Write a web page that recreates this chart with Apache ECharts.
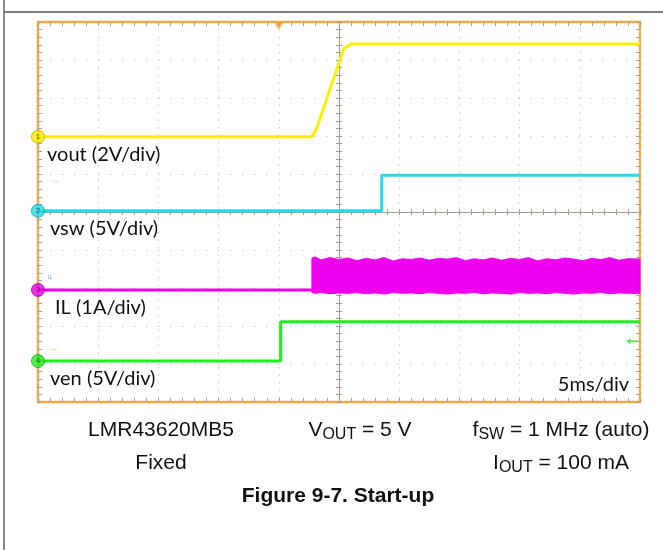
<!DOCTYPE html>
<html>
<head>
<meta charset="utf-8">
<script src="https://cdn.jsdelivr.net/npm/echarts@6/dist/echarts.min.js"></script>
<style>
html,body{margin:0;padding:0;background:#fff;}
#chart{width:663px;height:550px;}
</style>
</head>
<body>
<div id="chart"></div>
<script>
// ---- data (time in divisions at 5 ms/div, level in screen divisions 0..10) ----
const voutX = [0, 4.55, 4.63, 5.08, 5.21, 10];
const voutY = [6.98, 6.98, 7.2, 9.3, 9.42, 9.42];

const vswX = [0, 5.71, 5.71, 10];
const vswY = [5.03, 5.03, 5.97, 5.97];

const ilX = [0, 4.55];
const ilY = [2.95, 2.95];

const ilBandX      = [4.55, 4.6, 4.7, 4.85, 5.0, 5.15, 5.3, 5.45, 5.6, 5.75, 5.9, 6.05, 6.2, 6.35, 6.5, 6.65, 6.8, 6.95, 7.1, 7.25, 7.4, 7.55, 7.7, 7.85, 8.0, 8.15, 8.3, 8.45, 8.6, 8.75, 8.9, 9.05, 9.2, 9.35, 9.5, 9.65, 9.8, 10];
const ilBandTop    = [3.78, 3.82, 3.74, 3.80, 3.75, 3.79, 3.72, 3.78, 3.74, 3.80, 3.71, 3.77, 3.75, 3.79, 3.73, 3.78, 3.76, 3.80, 3.72, 3.77, 3.74, 3.79, 3.73, 3.78, 3.75, 3.80, 3.71, 3.77, 3.74, 3.79, 3.76, 3.72, 3.78, 3.75, 3.80, 3.73, 3.77, 3.76];
const ilBandBottom = [2.88, 2.86, 2.88, 2.85, 2.87, 2.86, 2.88, 2.85, 2.87, 2.84, 2.88, 2.86, 2.87, 2.85, 2.88, 2.86, 2.84, 2.87, 2.86, 2.88, 2.85, 2.87, 2.86, 2.84, 2.88, 2.86, 2.87, 2.85, 2.88, 2.86, 2.84, 2.87, 2.86, 2.88, 2.85, 2.87, 2.86, 2.86];

const venX = [0, 4.03, 4.03, 10];
const venY = [1.08, 1.08, 2.11, 2.11];

const channelNames = ['1', '2', '3', '4'];
const channelLevels = [6.98, 5.03, 2.95, 1.08];
const channelColors = ['#FFEE00', '#22DDEE', '#EE00EE', '#22EE22'];
const channelBorders = ['#B8A800', '#1799A8', '#A000A0', '#18A018'];

const traceLabels = ['vout (2V/div)', 'vsw (5V/div)', 'IL (1A/div)', 'ven (5V/div)'];
const triggerTime = 4.0;
const triggerLevel = 1.6;

function pairs(xs, ys) { return xs.map((x, i) => [x, ys[i]]); }

const chart = echarts.init(document.getElementById('chart'), null, {renderer: 'canvas'});

const tickColor = '#a0a0a0';
const centerColor = '#a49c8c';
const orange = '#F3A847';

function borderAxis(extra) {
  return Object.assign({
    type: 'value', min: 0, max: 10, interval: 1, gridIndex: 0,
    axisLine: {show: false, onZero: false},
    axisLabel: {show: false},
    axisTick: {show: true, inside: true, length: 4, lineStyle: {color: tickColor, width: 1}},
    minorTick: {show: true, splitNumber: 5, length: 4, lineStyle: {color: tickColor, width: 1}},
    splitLine: {show: false},
    minorSplitLine: {show: false}
  }, extra);
}
function centerAxis(grid, inside) {
  return {
    type: 'value', min: -5, max: 5, interval: 1, gridIndex: grid,
    axisLine: {show: true, onZero: true, lineStyle: {color: centerColor, width: 1}},
    axisLabel: {show: false},
    axisTick: {show: true, inside: inside, length: 3, lineStyle: {color: centerColor, width: 1}},
    minorTick: {show: true, splitNumber: 5, length: 3, lineStyle: {color: centerColor, width: 1}},
    splitLine: {show: false}
  };
}

const gridBox = {left: 38, top: 22, width: 602, height: 380};

const option = {
  backgroundColor: '#ffffff',
  animation: false,
  grid: [
    Object.assign({show: true, borderColor: orange, borderWidth: 2.5, backgroundColor: '#fff'}, gridBox),
    Object.assign({show: false}, gridBox),
    Object.assign({show: false}, gridBox)
  ],
  xAxis: [
    borderAxis({position: 'bottom', splitLine: {show: true, lineStyle: {color: '#c8c8c8', width: 1, type: [1.5, 6]}}}),
    borderAxis({position: 'top'}),
    centerAxis(1, true),
    centerAxis(2, false)
  ],
  yAxis: [
    borderAxis({position: 'left', splitLine: {show: true, lineStyle: {color: '#c8c8c8', width: 1, type: [1.5, 10.5]}}}),
    borderAxis({position: 'right'}),
    centerAxis(1, true),
    centerAxis(2, false)
  ],
  series: [
    {type: 'line', name: 'ven', data: pairs(venX, venY), showSymbol: false, lineStyle: {color: channelColors[3], width: 3}, xAxisIndex: 0, yAxisIndex: 0, z: 3},
    {type: 'line', name: 'IL', data: pairs(ilX, ilY), showSymbol: false, lineStyle: {color: channelColors[2], width: 3}, xAxisIndex: 0, yAxisIndex: 0, z: 3},
    {type: 'custom', name: 'ILband', xAxisIndex: 0, yAxisIndex: 0, z: 3,
      data: pairs(ilBandX, ilBandTop),
      renderItem: function (params, api) {
        if (params.dataIndex !== 0) return null;
        const pts = [];
        for (let i = 0; i < ilBandX.length; i++) pts.push(api.coord([ilBandX[i], ilBandTop[i]]));
        for (let i = ilBandX.length - 1; i >= 0; i--) pts.push(api.coord([ilBandX[i], ilBandBottom[i]]));
        return {type: 'polygon', shape: {points: pts}, style: {fill: channelColors[2], stroke: channelColors[2], lineWidth: 1}};
      }},
    {type: 'line', name: 'vsw', data: pairs(vswX, vswY), showSymbol: false, lineStyle: {color: channelColors[1], width: 3}, xAxisIndex: 0, yAxisIndex: 0, z: 3},
    {type: 'line', name: 'vout', data: pairs(voutX, voutY), showSymbol: false, lineStyle: {color: channelColors[0], width: 3}, xAxisIndex: 0, yAxisIndex: 0, z: 3},
    {type: 'scatter', name: 'markers', xAxisIndex: 0, yAxisIndex: 0, clip: false, z: 5,
      symbol: 'circle', symbolSize: 13,
      data: channelNames.map((n, i) => ({name: n, value: [0, channelLevels[i]],
        itemStyle: {color: channelColors[i], borderColor: channelBorders[i], borderWidth: 1}})),
      label: {show: true, position: 'inside', formatter: '{b}', fontSize: 8, color: '#333', fontFamily: 'Liberation Sans'}},
    {type: 'scatter', name: 'trigger', xAxisIndex: 0, yAxisIndex: 0, clip: false, z: 5,
      symbol: 'triangle', symbolRotate: 180, symbolSize: [9, 7], symbolOffset: [0, 4],
      itemStyle: {color: '#F39A1E'}, data: [[triggerTime, 10]]},
    {type: 'scatter', name: 'triglevel', xAxisIndex: 0, yAxisIndex: 0, clip: false, z: 5,
      symbol: 'path://M0,5 L6,0 L6,3.5 L16,3.5 L16,6.5 L6,6.5 L6,10 Z', symbolSize: [12, 6], symbolOffset: [-8, 0],
      itemStyle: {color: '#33DD33'}, data: [[10, triggerLevel]]}
  ],
  graphic: [
    {type: 'line', shape: {x1: 4, y1: 0, x2: 4, y2: 550}, style: {stroke: '#666', lineWidth: 1.5}, z: 10},
    {type: 'line', shape: {x1: 4, y1: 12, x2: 663, y2: 12}, style: {stroke: '#555', lineWidth: 1.5}, z: 10},
    {type: 'text', x: 47, y: 155, style: {text: traceLabels[0], font: '20px Lato', fill: '#111', textVerticalAlign: 'middle'}, z: 10},
    {type: 'text', x: 50, y: 229, style: {text: traceLabels[1], font: '20px Lato', fill: '#111', textVerticalAlign: 'middle'}, z: 10},
    {type: 'text', x: 55, y: 308, style: {text: traceLabels[2], font: '20px Lato', fill: '#111', textVerticalAlign: 'middle'}, z: 10},
    {type: 'text', x: 50, y: 379, style: {text: traceLabels[3], font: '20px Lato', fill: '#111', textVerticalAlign: 'middle'}, z: 10},
    {type: 'text', x: 629, y: 385, style: {text: '5ms/div', font: '20px Lato', fill: '#111', textAlign: 'right', textVerticalAlign: 'middle'}, z: 10},
    {type: 'text', x: 50, y: 182, style: {text: 'vsw', font: '5px Liberation Sans', fill: '#cfe8ee', textVerticalAlign: 'middle'}, z: 10},
    {type: 'text', x: 48, y: 278, style: {text: 'IL', font: '5px Liberation Sans', fill: '#4a8fe0', textVerticalAlign: 'middle'}, z: 10},
    {type: 'text', x: 50, y: 350, style: {text: 'ven', font: '5px Liberation Sans', fill: '#d6e48a', textVerticalAlign: 'middle'}, z: 10},
    {type: 'text', x: 161, y: 430, style: {text: 'LMR43620MB5', font: '21px Liberation Sans', fill: '#111', textAlign: 'center', textVerticalAlign: 'middle'}, z: 10},
    {type: 'text', x: 161, y: 463, style: {text: 'Fixed', font: '21px Liberation Sans', fill: '#111', textAlign: 'center', textVerticalAlign: 'middle'}, z: 10},
    {type: 'text', x: 360, y: 430, style: {text: 'V{s|OUT} = 5 V', font: '21px Liberation Sans', fill: '#111', textAlign: 'center', textVerticalAlign: 'middle',
      rich: {s: {fontSize: 16, fontFamily: 'Liberation Sans', padding: [10, 0, 0, 0], fill: '#111'}}}, z: 10},
    {type: 'text', x: 561, y: 430, style: {text: 'f{s|SW} = 1 MHz (auto)', font: '21px Liberation Sans', fill: '#111', textAlign: 'center', textVerticalAlign: 'middle',
      rich: {s: {fontSize: 16, fontFamily: 'Liberation Sans', padding: [10, 0, 0, 0], fill: '#111'}}}, z: 10},
    {type: 'text', x: 561, y: 463, style: {text: 'I{s|OUT} = 100 mA', font: '21px Liberation Sans', fill: '#111', textAlign: 'center', textVerticalAlign: 'middle',
      rich: {s: {fontSize: 16, fontFamily: 'Liberation Sans', padding: [10, 0, 0, 0], fill: '#111'}}}, z: 10},
    {type: 'text', x: 338, y: 496, style: {text: 'Figure 9-7. Start-up', font: 'bold 21px Liberation Sans', fill: '#111', textAlign: 'center', textVerticalAlign: 'middle'}, z: 10}
  ]
};
chart.setOption(option);
</script>
</body>
</html>
